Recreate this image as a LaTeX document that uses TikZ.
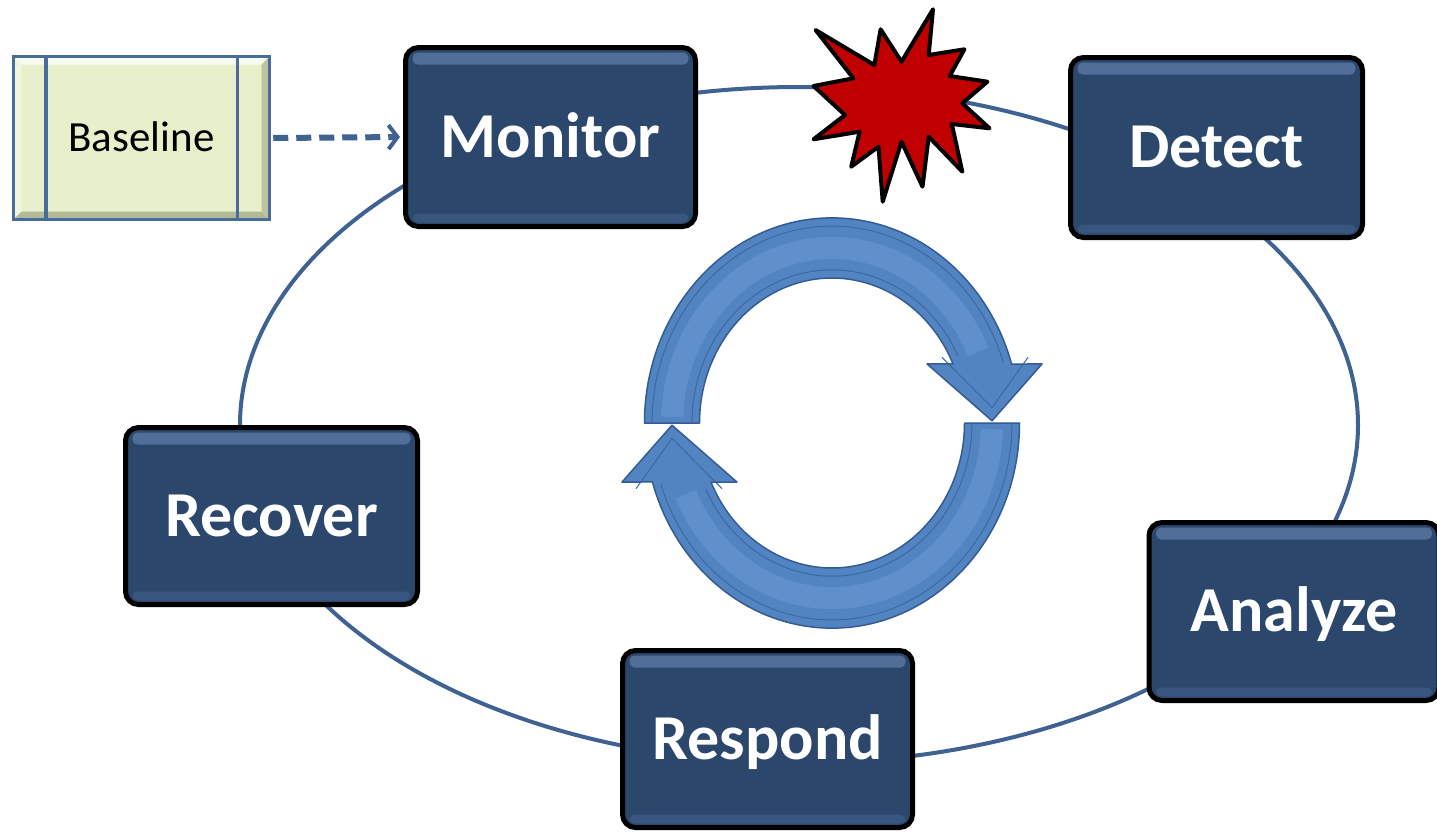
\documentclass[tikz,border=0pt]{standalone}
\usepackage{fontspec}
\newfontfamily\carlito{Carlito}
\usetikzlibrary{arrows.meta,calc,backgrounds}
\definecolor{boxfill}{RGB}{44,71,108}
\definecolor{boxlight}{RGB}{80,110,152}
\definecolor{boxmid}{RGB}{56,86,126}
\definecolor{ringblue}{RGB}{63,98,146}
\definecolor{arrowblue}{RGB}{82,132,194}
\definecolor{arrowlight}{RGB}{130,175,228}
\definecolor{arrowdark}{RGB}{52,92,148}
\definecolor{basefill}{RGB}{231,240,202}
\definecolor{baseedge}{RGB}{72,108,158}
\definecolor{baseshade}{RGB}{178,186,150}
\definecolor{starred}{RGB}{192,0,0}
\begin{document}
\begin{tikzpicture}[x=1pt,y=1pt,
  stage/.style={draw=black, line width=5pt, fill=boxfill, rounded corners=13pt,
    text=white, font=\carlito\bfseries\fontsize{64}{70}\selectfont,
    text height=40pt, text depth=0pt, inner sep=0pt,
    path picture={
      \fill[boxlight, rounded corners=5pt] ([xshift=7pt,yshift=-5pt]path picture bounding box.north west) rectangle ([xshift=-7pt,yshift=-17pt]path picture bounding box.north east);
      \fill[boxmid, rounded corners=5pt] ([xshift=7pt,yshift=4pt]path picture bounding box.south west) rectangle ([xshift=-7pt,yshift=13pt]path picture bounding box.south east);
    }},
  basebox/.style={draw=baseedge, line width=3.5pt, fill=basefill, inner sep=0pt,
    font=\carlito\fontsize{43}{48}\selectfont, text height=27pt, text depth=0pt,
    path picture={
      \fill[white!70!basefill] (path picture bounding box.north west) -- (path picture bounding box.north east) -- ([xshift=-8pt,yshift=-8pt]path picture bounding box.north east) -- ([xshift=8pt,yshift=-8pt]path picture bounding box.north west) -- cycle;
      \fill[white!40!basefill] (path picture bounding box.north west) -- (path picture bounding box.south west) -- ([xshift=8pt,yshift=8pt]path picture bounding box.south west) -- ([xshift=8pt,yshift=-8pt]path picture bounding box.north west) -- cycle;
      \fill[baseshade] (path picture bounding box.south west) -- (path picture bounding box.south east) -- ([xshift=-8pt,yshift=8pt]path picture bounding box.south east) -- ([xshift=8pt,yshift=8pt]path picture bounding box.south west) -- cycle;
      \fill[baseshade!80!basefill] (path picture bounding box.north east) -- (path picture bounding box.south east) -- ([xshift=-8pt,yshift=8pt]path picture bounding box.south east) -- ([xshift=-8pt,yshift=-8pt]path picture bounding box.north east) -- cycle;
    }},
  ring/.style={ringblue, line width=4pt},
  cyclearrow/.style={fill=arrowblue, draw=arrowdark, line width=1.5pt, line join=round},
  bevel/.style={arrowdark!70!arrowblue, line width=1pt},
  shine/.style={arrowlight, line width=22pt, opacity=0.3}
]
\begin{scope}[on background layer]
\fill[white] (0,0) rectangle (1437,-831);
\end{scope}
\useasboundingbox (0,0) rectangle (1437,-831);

% stages
\node[stage, minimum width=290pt, minimum height=179pt] (monitor) at (550.5,-137) {Monitor};
\node[stage, minimum width=292pt, minimum height=180pt] (detect) at (1216.5,-147.5) {Detect};
\node[stage, minimum width=290pt, minimum height=178pt] (analyze) at (1294,-611.5) {Analyze};
\node[stage, minimum width=290pt, minimum height=177pt] (respond) at (767.5,-739) {Respond};
\node[stage, minimum width=292pt, minimum height=177pt] (recover) at (271.5,-516) {Recover};

% baseline
\node[basebox, minimum width=256pt, minimum height=163pt] (baseline) at (141.5,-138) {Baseline};
\draw[baseedge, line width=3.5pt] ([xshift=34pt]baseline.north west) -- ([xshift=34pt]baseline.south west);
\draw[baseedge, line width=3.5pt] ([xshift=-34pt]baseline.north east) -- ([xshift=-34pt]baseline.south east);
\draw[ringblue, line width=6pt, dash pattern=on 15pt off 8pt, shorten >=3pt,
  -{Straight Barb[length=9pt,width=24pt,line width=4pt]}] ([xshift=2pt]baseline.east) -- (monitor.west);

% ring connectors on an ellipse
\coordinate (ec) at (799,-425);
\coordinate (mon-r) at ($(ec)+(102:559 and 338)$);
\coordinate (det-b) at ($(ec)+(36:559 and 338)$);
\coordinate (ana-l) at ($(ec)+(-49:559 and 338)$);
\coordinate (res-l) at ($(ec)+(-106:559 and 338)$);
\coordinate (rec-t) at ($(ec)+(183:559 and 338)$);
\begin{scope}[on background layer]
\draw[ring] (mon-r) arc[start angle=102, end angle=59, x radius=559, y radius=338];
\draw[ring] (det-b) arc[start angle=36, end angle=-19, x radius=559, y radius=338];
\draw[ring] (ana-l) arc[start angle=-49, end angle=-80, x radius=559, y radius=338];
\draw[ring] (res-l) arc[start angle=-106, end angle=-149, x radius=559, y radius=338];
\draw[ring] (rec-t) arc[start angle=183, end angle=133, x radius=559, y radius=338];
\end{scope}

% star
\draw[fill=starred, draw=black, line width=4pt, line join=round]
  (933,-9.3) -- (928.7,-55) -- (964.4,-49.3) -- (949.7,-76) -- (987.4,-81.7) -- (962.3,-103.3)
  -- (989.5,-128.3) -- (951.8,-124) -- (962.3,-171.7) -- (928.7,-136.7) -- (922.5,-186.7)
  -- (901.5,-141.7) -- (882.7,-201.7) -- (878.5,-146.7) -- (851.2,-166.7) -- (859.6,-131.7)
  -- (813.5,-139.3) -- (845,-115) -- (813.5,-86) -- (853.3,-78.3) -- (815.6,-30)
  -- (874.3,-65) -- (880.6,-29.3) -- (901.5,-61.7) -- cycle;

% cycle arrows
\foreach \rot in {0,180}{
\begin{scope}[shift={(832,-423)}, yscale=1.094, rotate=\rot]
  \draw[cyclearrow] (180:187.5) arc[start angle=180, end angle=16.7, radius=187.5]
    -- (210,54) -- (160,2) -- (95,54) -- (24.05:132.5)
    arc[start angle=24.05, end angle=180, radius=132.5] -- cycle;
  \draw[shine] (178:160) arc[start angle=178, end angle=24, radius=160];
  \draw[bevel] (180:180) arc[start angle=180, end angle=18, radius=180];
  \draw[bevel] (180:140) arc[start angle=180, end angle=26, radius=140];
  \draw[bevel] (196,60) -- (160,14) -- (110,60);
\end{scope}
}
\end{tikzpicture}
\end{document}
